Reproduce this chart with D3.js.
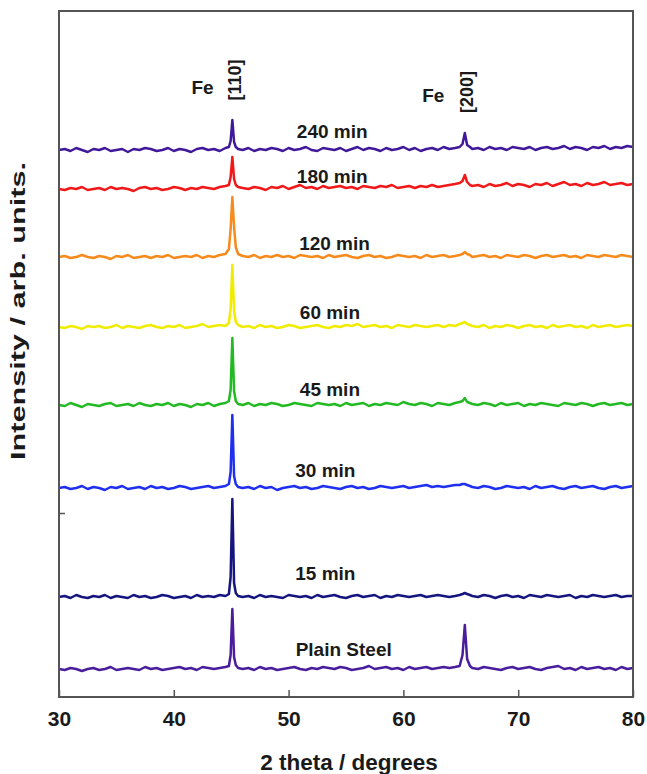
<!DOCTYPE html>
<html>
<head>
<meta charset="utf-8">
<script src="https://cdn.jsdelivr.net/npm/d3@7"></script>
<style>
  body { margin: 0; background: #fff; }
  text { font-family: "Liberation Sans", Arial, sans-serif; font-weight: bold; fill: #1a1a1a; }
</style>
</head>
<body>
<svg id="chart" width="647" height="774"></svg>
<script>
// 2-theta sample positions (degrees), denser around the two Fe reflections
const thetaLow  = [30,30.5,31,31.5,32,32.5,33,33.5,34,34.5,35,35.5,36,36.5,37,37.5,38,38.5,39,39.5,
                   40,40.5,41,41.5,42,42.5,43,43.5,44,44.5];
const theta110  = [44.8,44.95,45.1,45.25,45.4,45.6];
const thetaMid  = [46,46.5,47,47.5,48,48.5,49,49.5,50,50.5,51,51.5,52,52.5,53,53.5,54,54.5,55,55.5,
                   56,56.5,57,57.5,58,58.5,59,59.5,60,60.5,61,61.5,62,62.5,63,63.5,64,64.5];
const theta200  = [64.9,65.15,65.35,65.55,65.8];
const thetaHigh = [66,66.5,67,67.5,68,68.5,69,69.5,70,70.5,71,71.5,72,72.5,73,73.5,74,74.5,75,75.5,
                   76,76.5,77,77.5,78,78.5,79,79.5,80];
const twoTheta = [...thetaLow, ...theta110, ...thetaMid, ...theta200, ...thetaHigh];

// sample names, bottom to top
const samples = ['Plain Steel', '15 min', '30 min', '45 min', '60 min', '120 min', '180 min', '240 min'];

// vertical stacking offset of each pattern (arb. units)
const offsets = [28, 100, 209, 292, 370, 440, 508, 547];

// intensities above each pattern's own baseline (arb. units)
const plainSteel = [
  0,-1,1,0,-2,0,1,-1,0,2, -1,0,1,0,-1,2,0,1,-1,0, 1,2,0,1,-1,2,1,0,1,2,
  3,14,60,12,4,1,
  0,1,-1,2,0,1,-1,0,1,2, 0,-1,1,0,2,1,0,2,1,-1, 0,1,3,0,1,2,0,1,-1,2, 0,1,2,0,1,2,1,2,
  3,14,44,10,3,
  1,0,2,1,0,-1,1,2,0,1, 2,0,-1,1,2,3,0,1,-1,2, 0,1,2,0,1,-1,2,0,1
];
const min15 = [
  0,1,-1,2,0,-1,1,0,2,-1, 1,0,-1,2,0,1,-1,0,2,1, -1,0,1,-1,2,0,1,0,2,1,
  3,20,98,14,4,1,
  0,1,-1,2,0,1,0,-1,2,1, 0,1,-1,2,0,1,2,0,-1,1, 2,0,1,2,-1,1,0,2,1,0, 1,2,0,1,2,1,0,1,
  2,3,4,3,2,
  1,0,2,1,-1,1,2,0,1,-1, 2,1,0,2,1,0,1,2,-1,1, 0,2,1,0,1,2,0,1,1
];
const min30 = [
  0,1,-1,0,2,-1,1,0,-2,1, 0,2,-1,0,1,-1,2,0,1,-1, 0,2,1,-1,0,1,2,0,1,2,
  4,16,73,12,4,1,
  0,1,-1,2,0,1,-2,0,1,2, 0,1,-1,0,2,1,0,-1,1,2, 0,1,-1,0,2,1,0,1,2,0, 1,2,3,1,2,1,2,3,
  3,4,4,3,2,
  1,0,2,1,-1,0,2,1,0,1, -1,2,0,1,2,0,-1,1,2,0, 1,2,0,-1,1,2,0,1,2
];
const min45 = [
  0,-1,2,0,-2,1,0,-1,1,2, -1,0,1,-1,2,0,-1,1,0,2, -1,1,0,-2,1,0,2,-1,1,2,
  4,15,67,14,4,1,
  0,2,-1,1,0,2,1,-1,0,2, 1,0,-1,2,1,0,1,-1,2,0, 1,2,-1,1,0,2,1,0,3,1, 0,2,1,-1,2,1,0,2,
  3,4,7,3,2,
  1,0,2,1,-1,2,0,1,2,-1, 1,0,2,1,0,-1,2,1,0,2, 1,-1,1,2,0,1,2,0,1
];
const min60 = [
  0,-1,1,0,-2,1,0,1,-1,0, 2,-1,1,0,-1,1,2,0,-1,1, 0,2,-1,0,1,3,0,1,2,1,
  4,18,62,16,5,2,
  0,1,-1,2,0,1,-1,0,2,1, -1,0,1,2,0,-1,1,0,2,1, 3,0,1,2,0,1,-1,2,1,0, 2,1,0,1,2,0,2,1,
  3,4,5,3,2,
  1,0,2,-1,1,0,2,1,-1,1, 2,0,1,-1,2,0,1,2,0,1, -1,2,0,1,2,0,1,2,1
];
const min120 = [
  0,1,-1,0,2,0,-1,1,0,-2, 1,0,2,-1,0,1,-1,1,0,2, -1,0,1,0,2,-1,1,0,2,3,
  8,28,60,30,10,3,
  1,0,2,-1,1,0,2,0,1,-1, 2,1,0,1,-1,2,0,1,2,0, -1,1,2,0,1,-1,0,2,1,0, 1,-1,2,0,1,2,0,1,
  2,3,5,3,2,
  0,1,2,0,1,-1,2,1,0,2, 1,-1,1,2,0,1,2,0,1,-1, 2,1,0,2,1,0,2,1,0
];
const min180 = [
  0,-1,1,0,2,-1,0,1,-1,2, 0,1,0,-2,1,2,0,1,-1,0, 2,1,-1,1,0,2,1,0,2,3,
  4,12,32,10,4,2,
  1,0,2,1,-1,2,1,3,0,2, 4,1,2,0,3,1,2,3,1,2, 0,3,2,1,3,2,4,1,2,3, 1,3,2,4,2,3,4,5,
  6,8,14,7,4,
  3,4,2,5,3,4,6,3,5,4, 2,5,4,6,3,5,7,4,5,3, 6,4,5,7,4,5,6,4,5
];
const min240 = [
  0,1,-1,2,0,-2,1,0,2,-1, 0,1,-2,1,0,2,1,-1,0,2, -1,1,0,-2,1,2,0,1,-1,2,
  3,9,30,8,3,1,
  0,2,-1,1,0,2,1,-1,2,0, 1,3,0,-1,2,1,0,2,-1,1, 3,0,2,1,-1,2,0,1,3,0, 2,-1,1,2,0,3,1,2,
  3,6,17,5,3,
  1,2,0,3,1,2,0,3,2,1, 3,0,2,3,1,2,4,1,3,2, 0,3,2,4,1,3,2,4,3
];
const intensities = [plainSteel, min15, min30, min45, min60, min120, min180, min240];

const xTicks = [30, 40, 50, 60, 70, 80];

// --- layout / style ---
const colors = ['#4a1d9c', '#15157f', '#1f2ff0', '#22b922', '#f0ec00', '#f68a1c', '#f01818', '#40199a'];
// label anchor: 2-theta of label centre, lift above baseline
const labelAt = [[54.8, 20], [53.2, 24], [53.2, 18], [53.6, 16], [53.6, 15], [54.0, 14], [53.8, 13], [53.8, 19]];

const svg = d3.select('#chart');
const margin = { top: 11, left: 59 };
const width = 574, height = 686;

const x = d3.scaleLinear().domain([30, 80]).range([0, width]);
const y = d3.scaleLinear().domain([0, height]).range([height, 0]);

const g = svg.append('g').attr('transform', `translate(${margin.left},${margin.top})`);

const line = d3.line()
  .x(d => x(d[0]))
  .y(d => y(d[1]));

const series = samples.map((name, i) => ({
  name,
  color: colors[i],
  offset: offsets[i],
  label: labelAt[i],
  points: twoTheta.map((t, j) => [t, offsets[i] + intensities[i][j]])
}));

g.selectAll('path.pattern')
  .data(series)
  .join('path')
  .attr('class', 'pattern')
  .attr('fill', 'none')
  .attr('stroke', d => d.color)
  .attr('stroke-width', 2.5)
  .attr('stroke-linejoin', 'round')
  .attr('d', d => line(d.points));

g.selectAll('text.sample')
  .data(series)
  .join('text')
  .attr('class', 'sample')
  .attr('x', d => x(d.label[0]))
  .attr('y', d => y(d.offset + d.label[1]))
  .attr('text-anchor', 'middle')
  .attr('dominant-baseline', 'central')
  .style('font-size', '19px')
  .text(d => d.name);

// x axis, ticks pointing into the plot
const xAxis = g.append('g')
  .attr('transform', `translate(0,${height})`)
  .call(d3.axisBottom(x).tickValues(xTicks).tickSizeInner(-7).tickSizeOuter(0).tickPadding(14));
xAxis.select('.domain').remove();
xAxis.selectAll('line').attr('stroke', '#555').attr('stroke-width', 1.5);
xAxis.selectAll('text').style('font-size', '21px').attr('fill', '#1a1a1a');

// single leftover tick on the intensity axis
const yAxis = g.append('g')
  .call(d3.axisLeft(y).tickValues([184]).tickSizeInner(-6).tickSizeOuter(0).tickFormat(''));
yAxis.select('.domain').remove();
yAxis.selectAll('line').attr('stroke', '#555').attr('stroke-width', 1.5);

// frame
g.append('rect')
  .attr('width', width)
  .attr('height', height)
  .attr('fill', 'none')
  .attr('stroke', '#555')
  .attr('stroke-width', 2);

// peak annotations
const peaks = [
  { el: 'Fe', hkl: '[110]', elAt: [42.5, 610], hklAt: [45.3, 617] },
  { el: 'Fe', hkl: '[200]', elAt: [62.6, 602], hklAt: [65.5, 605] }
];
peaks.forEach(p => {
  g.append('text')
    .attr('x', x(p.elAt[0]))
    .attr('y', y(p.elAt[1]))
    .attr('text-anchor', 'middle')
    .attr('dominant-baseline', 'central')
    .style('font-size', '19px')
    .text(p.el);
  g.append('text')
    .attr('transform', `translate(${x(p.hklAt[0])},${y(p.hklAt[1])}) rotate(-90)`)
    .attr('text-anchor', 'middle')
    .attr('dominant-baseline', 'central')
    .style('font-size', '18px')
    .text(p.hkl);
});

// axis titles
svg.append('text')
  .attr('x', 349)
  .attr('y', 770)
  .attr('text-anchor', 'middle')
  .style('font-size', '22.5px')
  .text('2 theta / degrees');

svg.append('text')
  .attr('transform', `translate(25,311) rotate(-90)`)
  .attr('text-anchor', 'middle')
  .attr('textLength', 298)
  .attr('lengthAdjust', 'spacingAndGlyphs')
  .style('font-size', '21px')
  .text('Intensity / arb. units.');
</script>
</body>
</html>
